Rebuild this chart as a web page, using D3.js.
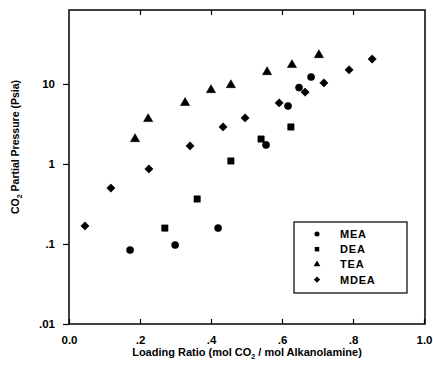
<!DOCTYPE html>
<html>
<head>
<meta charset="utf-8">
<script src="https://cdn.jsdelivr.net/npm/d3@7"></script>
<style>
  body { margin: 0; background: #fff; }
  text { font-family: "Liberation Sans", Arial, sans-serif; font-weight: bold; fill: #000; }
</style>
</head>
<body>
<div id="chart"></div>
<script>
// loading ratio / partial pressure pairs
const meaX = [0.172, 0.299, 0.420, 0.555, 0.617, 0.648, 0.682];
const meaY = [0.084, 0.097, 0.158, 1.73, 5.3, 9.0, 12.2];

const deaX = [0.270, 0.361, 0.456, 0.541, 0.625];
const deaY = [0.158, 0.365, 1.09, 2.05, 2.9];

const teaX = [0.186, 0.223, 0.327, 0.400, 0.456, 0.558, 0.628, 0.704];
const teaY = [2.05, 3.65, 5.8, 8.4, 9.7, 14.1, 17.3, 23.0];

const mdeaX = [0.045, 0.118, 0.225, 0.341, 0.434, 0.496, 0.592, 0.665, 0.718, 0.789, 0.854];
const mdeaY = [0.168, 0.50, 0.866, 1.68, 2.9, 3.76, 5.8, 7.9, 10.3, 15.0, 20.5];

const seriesNames = ["MEA", "DEA", "TEA", "MDEA"];
const xTicks = [0, 0.2, 0.4, 0.6, 0.8, 1.0];
const xTickLabels = ["0.0", ".2", ".4", ".6", ".8", "1.0"];
const yTicks = [0.01, 0.1, 1, 10];
const yTickLabels = [".01", ".1", "1", "10"];

const width = 433, height = 367;
const mLeft = 69, mRight = 425, mTop = 10, mBottom = 324;

const svg = d3.select("#chart").append("svg")
    .attr("width", width)
    .attr("height", height);

const x = d3.scaleLinear().domain([0, 1]).range([mLeft, 424]);
const y = d3.scaleLog().domain([0.01, 84]).range([mBottom, mTop]);

// frame
svg.append("rect")
    .attr("x", mLeft).attr("y", mTop)
    .attr("width", mRight - mLeft).attr("height", mBottom - mTop)
    .attr("fill", "none").attr("stroke", "#000").attr("stroke-width", 1.5);

// bottom ticks (inside) + labels
svg.append("g")
    .attr("transform", `translate(0,${mBottom})`)
    .call(d3.axisBottom(x).tickValues(xTicks).tickSizeInner(-5).tickSizeOuter(0)
      .tickFormat((d, i) => xTickLabels[i]))
    .call(g => g.select(".domain").remove())
    .call(g => g.selectAll("line").attr("stroke-width", 1.2))
    .call(g => g.selectAll("text").attr("y", 12).attr("font-size", 11.5));

// top ticks (inside)
svg.append("g")
    .attr("transform", `translate(0,${mTop})`)
    .call(d3.axisTop(x).tickValues(xTicks.slice(1, 5)).tickSizeInner(-5).tickSizeOuter(0).tickFormat(""))
    .call(g => g.select(".domain").remove())
    .call(g => g.selectAll("line").attr("stroke-width", 1.2));

// left ticks (outside)
svg.append("g")
    .attr("transform", `translate(${mLeft},0)`)
    .call(d3.axisLeft(y).tickValues(yTicks).tickSizeInner(6).tickSizeOuter(0)
      .tickFormat((d, i) => yTickLabels[i]))
    .call(g => g.select(".domain").remove())
    .call(g => g.selectAll("line").attr("stroke-width", 1.2))
    .call(g => g.selectAll("text").attr("x", -14).attr("font-size", 11.5));

// axis titles
const xt = svg.append("text")
    .attr("x", 247).attr("y", 356)
    .attr("text-anchor", "middle").attr("font-size", 11);
xt.append("tspan").text("Loading Ratio (mol CO");
xt.append("tspan").attr("font-size", 7).attr("dy", 3).text("2");
xt.append("tspan").attr("dy", -3).text(" / mol Alkanolamine)");

const yt = svg.append("text")
    .attr("transform", "translate(19,147) rotate(-90)")
    .attr("text-anchor", "middle").attr("font-size", 10.5);
yt.append("tspan").text("CO");
yt.append("tspan").attr("font-size", 7).attr("dy", 3).text("2");
yt.append("tspan").attr("dy", -3).text(" Partial Pressure (Psia)");

// markers: diamond is a square turned 45 degrees, as in the scan
const shapes = [d3.symbolCircle, d3.symbolSquare, d3.symbolTriangle, d3.symbolSquare];
const turn = [0, 0, 0, 45];
const sizes = [40, 40, 36, 34];
const data = [
  d3.zip(meaX, meaY),
  d3.zip(deaX, deaY),
  d3.zip(teaX, teaY),
  d3.zip(mdeaX, mdeaY)
];

data.forEach((pts, i) => {
  svg.append("g").selectAll("path")
    .data(pts)
    .join("path")
      .attr("transform", d => `translate(${x(d[0])},${y(d[1])}) rotate(${turn[i]})`)
      .attr("d", d3.symbol().type(shapes[i]).size(sizes[i]))
      .attr("fill", "#000")
      .attr("stroke", "#000")
      .attr("stroke-width", 0.6)
      .attr("stroke-linejoin", "round");
});

// legend
const lg = svg.append("g");
lg.append("rect")
    .attr("x", 294).attr("y", 222).attr("width", 113).attr("height", 71)
    .attr("fill", "#fff").attr("stroke", "#000").attr("stroke-width", 1.2);

seriesNames.forEach((name, i) => {
  const yy = 234 + i * 15.2;
  lg.append("path")
      .attr("transform", `translate(317,${yy}) rotate(${turn[i]})`)
      .attr("d", d3.symbol().type(shapes[i]).size(20))
      .attr("fill", "#000");
  lg.append("text")
      .attr("x", 340).attr("y", yy + 4)
      .attr("font-size", 11).attr("letter-spacing", 0.8)
      .text(name);
});
</script>
</body>
</html>
